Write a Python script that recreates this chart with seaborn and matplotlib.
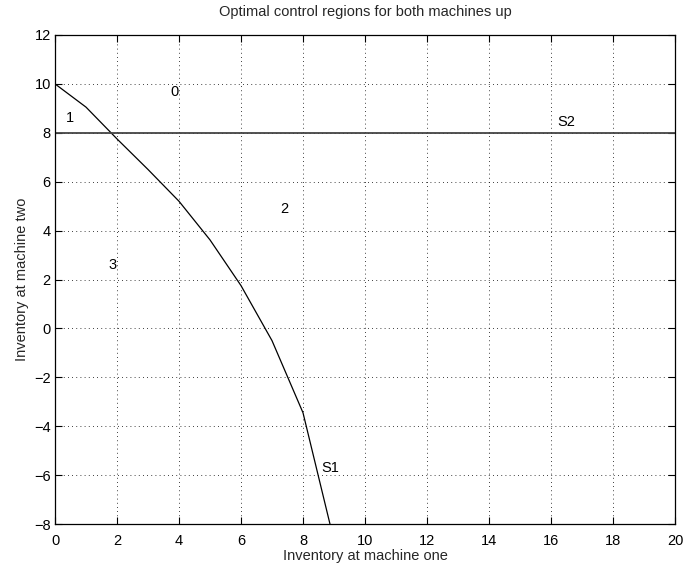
import matplotlib
matplotlib.use("Agg")
import matplotlib.pyplot as plt
import seaborn as sns
import pandas as pd

# Data
s1_x = [0, 1, 2, 3, 4, 5, 6, 7, 8, 8.87]
s1_y = [10, 9.05, 7.75, 6.5, 5.2, 3.62, 1.75, -0.5, -3.45, -8]
s2_x = [0, 20]
s2_y = [8, 8]
region_labels = ["0", "1", "2", "3", "S1", "S2"]
label_x = [3.71, 0.35, 7.28, 1.74, 8.6, 16.2]
label_y = [9.68, 8.6, 4.9, 2.6, -5.7, 8.45]
x_ticks = list(range(0, 21, 2))
y_ticks = list(range(-8, 13, 2))

sns.set_theme(style="white")
plt.rcParams["font.family"] = ["Liberation Sans", "DejaVu Sans"]
plt.rcParams["axes.unicode_minus"] = True

fig = plt.figure(figsize=(6.85, 5.66), dpi=100)
ax = fig.add_axes([55 / 685, (566 - 524) / 566, 620 / 685, (524 - 35) / 566])

df1 = pd.DataFrame({"x": s1_x, "y": s1_y})
df2 = pd.DataFrame({"x": s2_x, "y": s2_y})
sns.lineplot(data=df1, x="x", y="y", ax=ax, color="black", linewidth=0.9,
             sort=False, estimator=None)
sns.lineplot(data=df2, x="x", y="y", ax=ax, color="#444444", linewidth=1.3,
             sort=False, estimator=None)

for t, x, y in zip(region_labels, label_x, label_y):
    ax.text(x, y, t, ha="left", va="center", fontsize=10.5, color="black")

ax.set_xlim(0, 20)
ax.set_ylim(-8, 12)
ax.set_xticks(x_ticks)
ax.set_yticks(y_ticks)
ax.tick_params(direction="in", length=5, width=0.8, labelsize=10.5,
               top=True, right=True, bottom=True, left=True, colors="black")
ax.tick_params(axis="x", pad=7)
ax.tick_params(axis="y", pad=3)
ax.grid(True, linestyle=(0, (1, 4)), color="black", linewidth=0.6)
for s in ax.spines.values():
    s.set_color("black")
    s.set_linewidth(0.9)

ax.set_title("Optimal control regions for both machines up", fontsize=10.5, pad=14)
ax.set_xlabel("Inventory at machine one", fontsize=10.5, labelpad=1)
ax.set_ylabel("Inventory at machine two", fontsize=10.5, labelpad=4)

fig.savefig("out.png", dpi=100)
